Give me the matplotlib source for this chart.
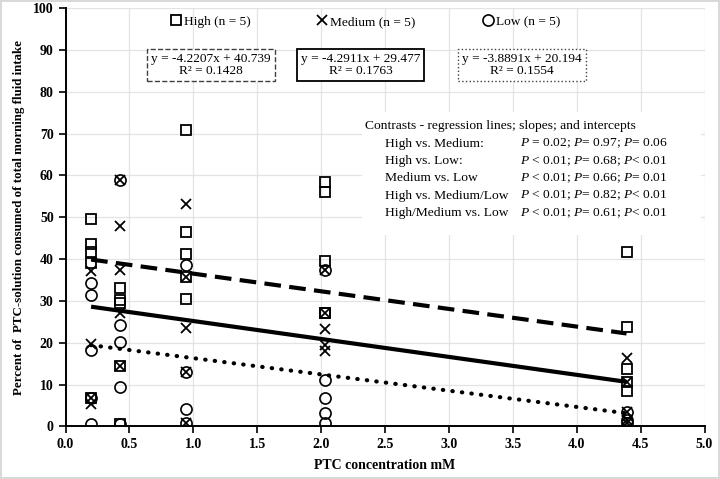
import matplotlib
matplotlib.use("Agg")
import matplotlib.pyplot as plt
import numpy as np
from matplotlib.patches import Rectangle

plt.rcParams['font.family'] = ['Liberation Serif', 'DejaVu Serif']
plt.rcParams['mathtext.fontset'] = 'custom'
plt.rcParams['mathtext.rm'] = 'Liberation Serif'
plt.rcParams['mathtext.it'] = 'Liberation Serif:italic'

# data
high_x = [0.2, 0.2, 0.2, 0.2, 0.2, 0.43, 0.43, 0.43, 0.43, 0.43, 0.94, 0.94, 0.94, 0.94, 0.94,
          2.03, 2.03, 2.03, 2.03, 2.03, 4.39, 4.39, 4.39, 4.39, 4.39]
high_y = [49.6, 43.7, 41.6, 39.1, 6.7, 33.2, 30.2, 29.4, 14.5, 0.6, 70.9, 46.6, 41.2, 35.6, 30.5,
          58.5, 56.0, 39.5, 27.2, 27.0, 41.8, 23.8, 13.6, 10.7, 8.5]

med_x = [0.2, 0.2, 0.2, 0.2, 0.43, 0.43, 0.43, 0.43, 0.43, 0.94, 0.94, 0.94, 0.94, 0.94,
         2.03, 2.03, 2.03, 2.03, 2.03, 4.39, 4.39, 4.39, 4.39, 4.39]
med_y = [37.2, 19.7, 6.7, 5.3, 58.9, 47.8, 37.4, 27.0, 14.5, 53.2, 35.6, 23.4, 12.9, 0.9,
         37.3, 27.0, 23.2, 19.5, 18.1, 16.3, 10.7, 3.5, 1.5, 0.7]

low_x = [0.2, 0.2, 0.2, 0.2, 0.2, 0.43, 0.43, 0.43, 0.43, 0.43, 0.94, 0.94, 0.94, 0.94,
         2.03, 2.03, 2.03, 2.03, 2.03, 4.39, 4.39, 4.39]
low_y = [34.4, 31.4, 18.3, 6.7, 0.6, 58.9, 24.2, 20.2, 9.5, 0.6, 38.6, 12.9, 4.1, 0.9,
         37.3, 11.1, 6.7, 3.3, 0.9, 3.5, 1.5, 0.7]

groups = ['High (n = 5)', 'Medium (n = 5)', 'Low (n = 5)']
slopes = [-4.2207, -4.2911, -3.8891]
intercepts = [40.739, 29.477, 20.194]
r2 = [0.1428, 0.1763, 0.1554]

contrast_names = ['High vs. Medium:', 'High vs. Low:', 'Medium vs. Low',
                  'High vs. Medium/Low', 'High/Medium vs. Low']
contrast_p = ['$P$ = 0.02; $P$= 0.97; $P$= 0.06',
              '$P$ < 0.01; $P$= 0.68; $P$< 0.01',
              '$P$ < 0.01; $P$= 0.66; $P$= 0.01',
              '$P$ < 0.01; $P$= 0.82; $P$< 0.01',
              '$P$ < 0.01; $P$= 0.61; $P$< 0.01']

fig = plt.figure(figsize=(7.2, 4.79), dpi=100)
fig.patch.set_edgecolor('#d9d9d9')
fig.patch.set_linewidth(1.5)
ax = fig.add_axes([0.091, 0.110, 0.8875, 0.8727])

ax.grid(True, color='#e3e3e3', linewidth=0.9)
ax.set_axisbelow(True)

h1, = ax.plot(high_x, high_y, 's', ms=7.5, mfc='none', mec='black', mew=1.3, ls='none', zorder=3)
h2, = ax.plot(med_x, med_y, 'x', ms=7.5, mec='black', mew=1.3, ls='none', zorder=3)
h3, = ax.plot(low_x, low_y, 'o', ms=8, mfc='none', mec='black', mew=1.2, ls='none', zorder=3)

# regression lines
styles = [(0, (4, 2)), '-', (0, (0.1, 2.2))]
caps = ['butt', 'butt', 'round']
allx = high_x + med_x + low_x
xs = np.array([min(allx), max(allx)])
for m, b, st, cs in zip(slopes, intercepts, styles, caps):
    ln, = ax.plot(xs, m * xs + b, color='black', lw=3, ls=st, zorder=4)
    ln.set_dash_capstyle(cs)
    ln.set_solid_capstyle('butt')

leg = ax.legend([h1, h2, h3], groups, loc='center', bbox_to_anchor=(0.469, 0.968), ncol=3,
                frameon=False, fontsize=9.6, handlelength=0.8, handletextpad=0.2,
                columnspacing=5.0, borderpad=0.1)

# equation boxes
box_x = [1.14, 2.31, 3.57]
box_ls = ['--', '-', ':']
for i in range(3):
    txt = 'y = %.4fx + %.3f\nR² = %.4f' % (slopes[i], intercepts[i], r2[i])
    ax.text(box_x[i], 86.4, txt, ha='center', va='center', fontsize=9.6, linespacing=1.05,
            bbox=dict(boxstyle='square,pad=0.3', fc='white',
                      ec='#404040' if i != 1 else 'black', ls=box_ls[i], lw=1.0 if i != 1 else 1.3),
            zorder=5)

# contrasts block
ax.add_patch(Rectangle((2.32, 45.8), 2.65, 29.4, fc='white', ec='none', zorder=2))
ax.text(2.34, 71.8, 'Contrasts - regression lines; slopes; and intercepts', fontsize=9.7,
        va='center', ha='left', zorder=5)
for i in range(len(contrast_names)):
    yy = 71.8 - 4.15 * (i + 1)
    ax.text(2.5, yy, contrast_names[i], fontsize=9.7, va='center', ha='left', zorder=5)
    ax.text(3.56, yy, contrast_p[i], fontsize=9.7, va='center', ha='left', zorder=5)

ax.set_xlim(0, 5)
ax.set_ylim(0, 100)
ax.set_xticks(np.arange(0, 5.01, 0.5))
ax.set_yticks(np.arange(0, 101, 10))
ax.set_xticklabels(['%.1f' % v for v in np.arange(0, 5.01, 0.5)], fontweight='bold', fontsize=10)
ax.set_yticklabels([str(v) for v in range(0, 101, 10)], fontweight='bold', fontsize=10)
ax.tick_params(direction='out', length=5, width=1.2, colors='black')
for s in ['top', 'right']:
    ax.spines[s].set_visible(False)
for s in ['left', 'bottom']:
    ax.spines[s].set_linewidth(1.4)

ax.set_xlabel('PTC concentration mM', fontweight='bold', fontsize=10, labelpad=6)
ax.set_ylabel('Percent of  PTC-solution consumed of total morning fluid intake',
              fontweight='bold', fontsize=9.3, labelpad=6)

fig.savefig('out.png', dpi=100)
